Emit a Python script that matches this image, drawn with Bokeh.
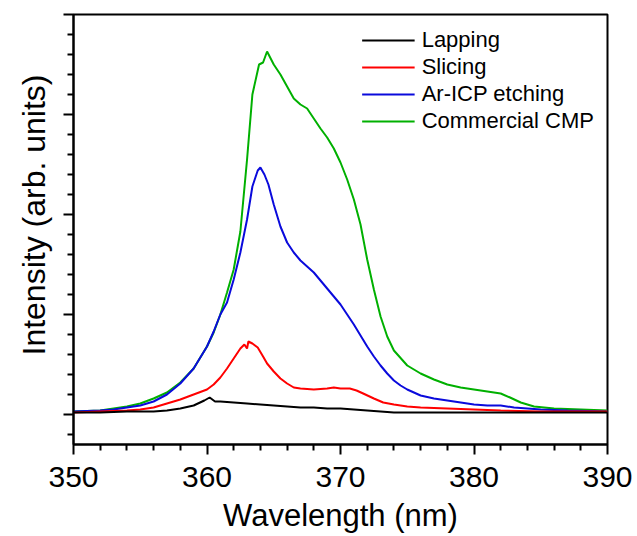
from bokeh.plotting import figure
from bokeh.models import Range1d, FixedTicker, Legend, LegendItem, Title
from bokeh.embed import file_html
from bokeh.resources import INLINE

# ---- data ----
lap_x = [350, 352, 354, 356, 357, 358, 359, 359.8, 360.2, 360.6, 361, 362, 363, 364, 365, 366,
         367, 368, 369, 370, 371, 372, 373, 374, 376, 380, 385, 390]
lap_y = [0.02, 0.02, 0.03, 0.03, 0.04, 0.06, 0.09, 0.14, 0.17, 0.13, 0.13, 0.12, 0.11, 0.10, 0.09, 0.08,
         0.07, 0.07, 0.06, 0.06, 0.05, 0.04, 0.03, 0.02, 0.02, 0.02, 0.02, 0.02]

sli_x = [350, 352, 354, 355, 356, 357, 358, 359, 360, 360.5, 361, 361.5, 362, 362.5, 362.8, 363.0,
         363.1, 363.4, 363.8, 364.2, 364.5, 365, 365.5, 366, 366.5, 367, 368, 369, 369.5, 370, 370.7,
         371.2, 371.7, 372.5, 373.2, 374, 375, 376, 378, 380, 382, 385, 390]
sli_y = [0.02, 0.03, 0.04, 0.05, 0.07, 0.11, 0.15, 0.20, 0.25, 0.30, 0.37, 0.46, 0.56, 0.66, 0.70, 0.66,
         0.73, 0.71, 0.67, 0.58, 0.51, 0.43, 0.36, 0.31, 0.27, 0.26, 0.25, 0.26, 0.27, 0.26, 0.26,
         0.24, 0.21, 0.16, 0.12, 0.10, 0.08, 0.07, 0.06, 0.05, 0.04, 0.03, 0.03]

icp_x = [350, 352, 353, 354, 355, 356, 357, 358, 359, 360, 360.5, 361, 361.5, 362, 362.5, 363, 363.4,
         363.8, 364, 364.3, 364.6, 365, 365.5, 366, 366.5, 367, 367.5, 368, 368.5, 369, 369.5, 370,
         370.5, 371, 371.5, 372, 372.5, 373, 373.5, 374, 374.5, 375, 376, 377, 378, 379, 380, 381,
         382, 383, 384, 385, 387, 390]
icp_y = [0.03, 0.04, 0.05, 0.07, 0.09, 0.13, 0.20, 0.31, 0.46, 0.68, 0.83, 1.00, 1.12, 1.35, 1.62, 1.95, 2.28,
         2.44, 2.47, 2.40, 2.30, 2.10, 1.88, 1.72, 1.62, 1.54, 1.48, 1.42, 1.34, 1.26, 1.18, 1.10,
         1.00, 0.90, 0.79, 0.68, 0.58, 0.49, 0.41, 0.34, 0.29, 0.25, 0.19, 0.16, 0.14, 0.12, 0.10, 0.09,
         0.09, 0.07, 0.06, 0.05, 0.04, 0.03]

cmp_x = [350, 352, 353, 354, 355, 356, 357, 358, 359, 360, 360.5, 361, 361.5, 362, 362.5, 363, 363.4,
         363.9, 364.2, 364.5, 365, 365.5, 366, 366.5, 367, 367.5, 368, 368.5, 369, 369.5, 370, 370.5,
         371, 371.5, 372, 372.5, 373, 373.5, 374, 375, 376, 377, 378, 379, 380, 381, 382, 382.7,
         383.5, 384.5, 386, 388, 390]
cmp_y = [0.03, 0.04, 0.06, 0.08, 0.11, 0.16, 0.22, 0.32, 0.46, 0.68, 0.82, 1.00, 1.22, 1.45, 1.83, 2.55, 3.20,
         3.50, 3.52, 3.63, 3.50, 3.40, 3.28, 3.16, 3.10, 3.06, 2.96, 2.86, 2.77, 2.66, 2.52, 2.35,
         2.15, 1.90, 1.55, 1.25, 0.98, 0.78, 0.64, 0.49, 0.41, 0.35, 0.30, 0.27, 0.25, 0.23, 0.21, 0.17,
         0.12, 0.08, 0.06, 0.05, 0.04]

x_major = [350, 360, 370, 380, 390]
x_minor = [352, 354, 356, 358, 362, 364, 366, 368, 372, 374, 376, 378, 382, 384, 386, 388]
y_major = [0, 1, 2, 3, 4]
y_minor = [-0.2, 0.2, 0.4, 0.6, 0.8, 1.2, 1.4, 1.6, 1.8, 2.2, 2.4, 2.6, 2.8, 3.2, 3.4, 3.6, 3.8]

FONT = "Liberation Sans"

p = figure(width=637, height=536, output_backend="svg", toolbar_location=None,
           x_range=Range1d(350, 390), y_range=Range1d(-0.3, 4.0),
           min_border_left=73, min_border_right=30, min_border_top=14, min_border_bottom=92,
           background_fill_color="white", border_fill_color="white")

p.xgrid.visible = False
p.ygrid.visible = False
p.outline_line_color = "black"
p.outline_line_width = 2

r_cmp = p.line(cmp_x, cmp_y, line_color="#00B000", line_width=2)
r_icp = p.line(icp_x, icp_y, line_color="#0A0ADC", line_width=2)
r_sli = p.line(sli_x, sli_y, line_color="#FF0000", line_width=2)
r_lap = p.line(lap_x, lap_y, line_color="#000000", line_width=2)

xa = p.xaxis[0]
xa.ticker = FixedTicker(ticks=x_major, minor_ticks=x_minor)
xa.axis_label = "Wavelength (nm)"
ya = p.yaxis[0]
ya.ticker = FixedTicker(ticks=y_major, minor_ticks=y_minor)
ya.major_label_overrides = {float(t): "" for t in y_major}

for ax in (xa, ya):
    ax.axis_line_width = 2
    ax.axis_line_color = "black"
    ax.major_tick_line_width = 2
    ax.minor_tick_line_width = 2
    ax.major_tick_line_color = "black"
    ax.minor_tick_line_color = "black"
    ax.major_tick_in = 0
    ax.minor_tick_in = 0
    ax.major_tick_out = 10
    ax.minor_tick_out = 6
    ax.major_label_text_font = FONT
    ax.major_label_text_font_size = "30px"
    ax.major_label_text_color = "black"
    ax.axis_label_text_font = FONT
    ax.axis_label_text_font_size = "31px"
    ax.axis_label_text_font_style = "normal"
    ax.axis_label_text_color = "black"

xa.major_label_standoff = 12
xa.axis_label_standoff = 8
ya.major_label_standoff = 0

ytitle = Title(text="Intensity (arb. units)", align="left", offset=89, standoff=24,
               text_font=FONT, text_font_size="32px", text_font_style="normal",
               text_color="black")
p.add_layout(ytitle, "left")

legend = Legend(items=[
    LegendItem(label="Lapping", renderers=[r_lap]),
    LegendItem(label="Slicing", renderers=[r_sli]),
    LegendItem(label="Ar-ICP etching", renderers=[r_icp]),
    LegendItem(label="Commercial CMP", renderers=[r_cmp]),
], location="top_right", border_line_color=None, background_fill_alpha=0,
    label_text_font=FONT, label_text_font_size="22px", label_text_color="black",
    glyph_width=53, glyph_height=20, label_standoff=7, spacing=1, padding=9, margin=13)
p.add_layout(legend)

open("out.html", "w").write(file_html(p, INLINE))
